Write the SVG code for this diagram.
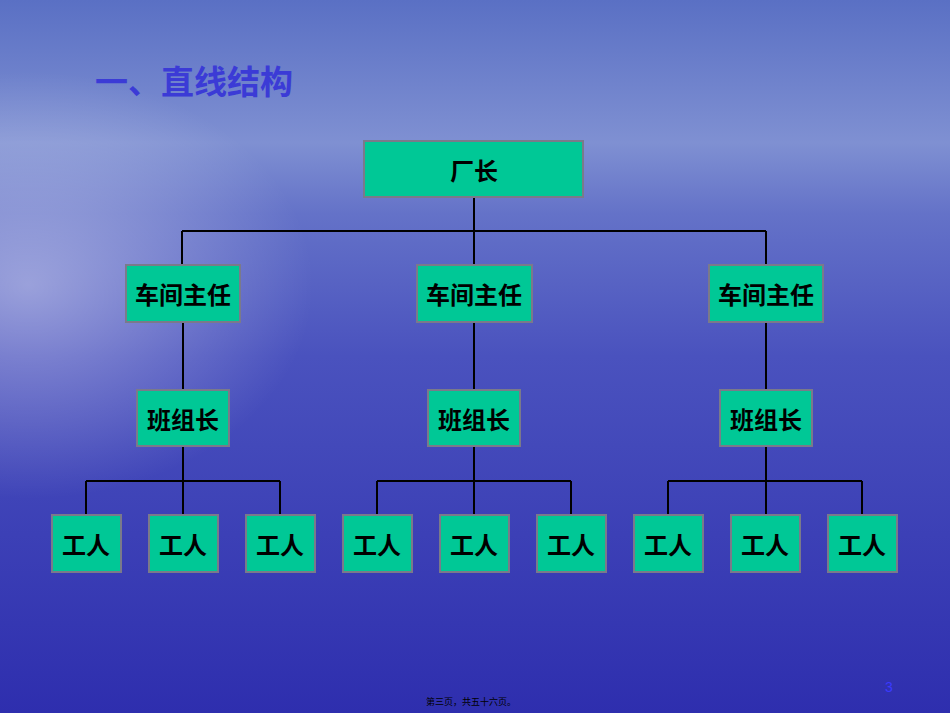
<svg xmlns="http://www.w3.org/2000/svg" width="950" height="713" viewBox="0 0 950 713">
<defs>
<linearGradient id="bg" x1="0" y1="0" x2="0" y2="1">
<stop offset="0" stop-color="#5a70c4"/>
<stop offset="0.2" stop-color="#7f90d2"/>
<stop offset="0.3" stop-color="#6472c8"/>
<stop offset="0.5" stop-color="#4a52be"/>
<stop offset="1" stop-color="#2e2eae"/>
</linearGradient>
<radialGradient id="glow" cx="0.03" cy="0.4" r="0.3">
<stop offset="0" stop-color="#ffffff" stop-opacity="0.4"/>
<stop offset="1" stop-color="#ffffff" stop-opacity="0"/>
</radialGradient>
<style>
.n rect{fill:#00c896;stroke:#7a7a8a;stroke-width:2}
.n text{font-family:"Noto Sans CJK SC",sans-serif;font-weight:bold;font-size:24px;fill:#000;text-anchor:middle;dominant-baseline:central}
#edges path{stroke:#000;stroke-width:2;fill:none}
</style>
</defs>
<rect width="950" height="713" fill="url(#bg)"/>
<rect width="950" height="713" fill="url(#glow)"/>
<text x="95" y="94" font-family="Noto Sans CJK SC,sans-serif" font-weight="bold" font-size="33" fill="#3b3bd6">一、直线结构</text>
<g id="edges">
<path d="M474 197V265M182 231H766M182 231V265M766 231V265"/>
<path d="M183 322V390M474 322V390M766 322V390"/>
<path d="M183 446V515M86 481H280M86 481V515M280 481V515"/>
<path d="M474 446V515M377 481H571M377 481V515M571 481V515"/>
<path d="M766 446V515M668 481H862M668 481V515M862 481V515"/>
</g>
<g id="n0" class="n"><rect x="364" y="141" width="219" height="56"/><text x="474" y="169">厂长</text></g>
<g id="m1" class="n"><rect x="126" y="265" width="114" height="57"/><text x="183" y="293">车间主任</text></g>
<g id="m2" class="n"><rect x="417" y="265" width="115" height="57"/><text x="474" y="293">车间主任</text></g>
<g id="m3" class="n"><rect x="709" y="265" width="114" height="57"/><text x="766" y="293">车间主任</text></g>
<g id="b1" class="n"><rect x="137" y="390" width="92" height="56"/><text x="183" y="418">班组长</text></g>
<g id="b2" class="n"><rect x="428" y="390" width="92" height="56"/><text x="474" y="418">班组长</text></g>
<g id="b3" class="n"><rect x="720" y="390" width="92" height="56"/><text x="766" y="418">班组长</text></g>
<g id="w1" class="n"><rect x="52" y="515" width="69" height="57"/><text x="86" y="543">工人</text></g>
<g id="w2" class="n"><rect x="149" y="515" width="69" height="57"/><text x="183" y="543">工人</text></g>
<g id="w3" class="n"><rect x="246" y="515" width="69" height="57"/><text x="280" y="543">工人</text></g>
<g id="w4" class="n"><rect x="343" y="515" width="69" height="57"/><text x="377" y="543">工人</text></g>
<g id="w5" class="n"><rect x="440" y="515" width="69" height="57"/><text x="474" y="543">工人</text></g>
<g id="w6" class="n"><rect x="537" y="515" width="69" height="57"/><text x="571" y="543">工人</text></g>
<g id="w7" class="n"><rect x="634" y="515" width="69" height="57"/><text x="668" y="543">工人</text></g>
<g id="w8" class="n"><rect x="731" y="515" width="69" height="57"/><text x="765" y="543">工人</text></g>
<g id="w9" class="n"><rect x="828" y="515" width="69" height="57"/><text x="862" y="543">工人</text></g>
<text x="885" y="692" font-family="Liberation Sans,sans-serif" font-size="14" fill="#3a3aff">3</text>
<text x="426" y="705" font-family="Noto Sans CJK SC,sans-serif" font-size="9" fill="#000">第三页，共五十六页。</text>
</svg>
